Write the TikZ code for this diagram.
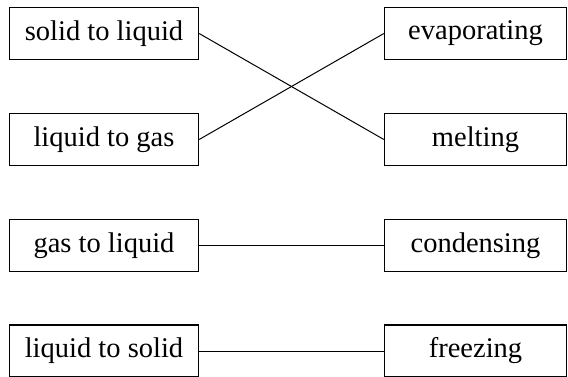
\documentclass[tikz,border=0pt]{standalone}
\usepackage{fontspec}
\setmainfont{Liberation Serif}
\begin{document}
\begin{tikzpicture}[x=1pt,y=-1pt,
  box/.style={draw, line width=1.3pt, minimum width=189pt, minimum height=52pt, inner sep=0pt,
    font=\fontsize{28.5}{30}\selectfont},
  link/.style={line width=1pt}]
\useasboundingbox (0,0) rectangle (568,376);
\fill[white] (0,0) rectangle (568,376);
\node[box] (a) at (104,33.5) {solid to liquid};
\node[box] (b) at (104,139.5) {liquid to gas};
\node[box] (c) at (104,245.5) {gas to liquid};
\node[box] (d) at (104,351) {liquid to solid};
\node[box, minimum width=182pt] (e) at (475.5,33.5) {evaporating};
\node[box, minimum width=182pt] (f) at (475.5,139.5) {melting};
\node[box, minimum width=182pt] (g) at (475.5,245.5) {condensing};
\node[box, minimum width=182pt] (h) at (475.5,351) {freezing};
\draw[link] (a.east) -- (f.west);
\draw[link] (b.east) -- (e.west);
\draw[link] (c.east) -- (g.west);
\draw[link] (d.east) -- (h.west);
\end{tikzpicture}
\end{document}
